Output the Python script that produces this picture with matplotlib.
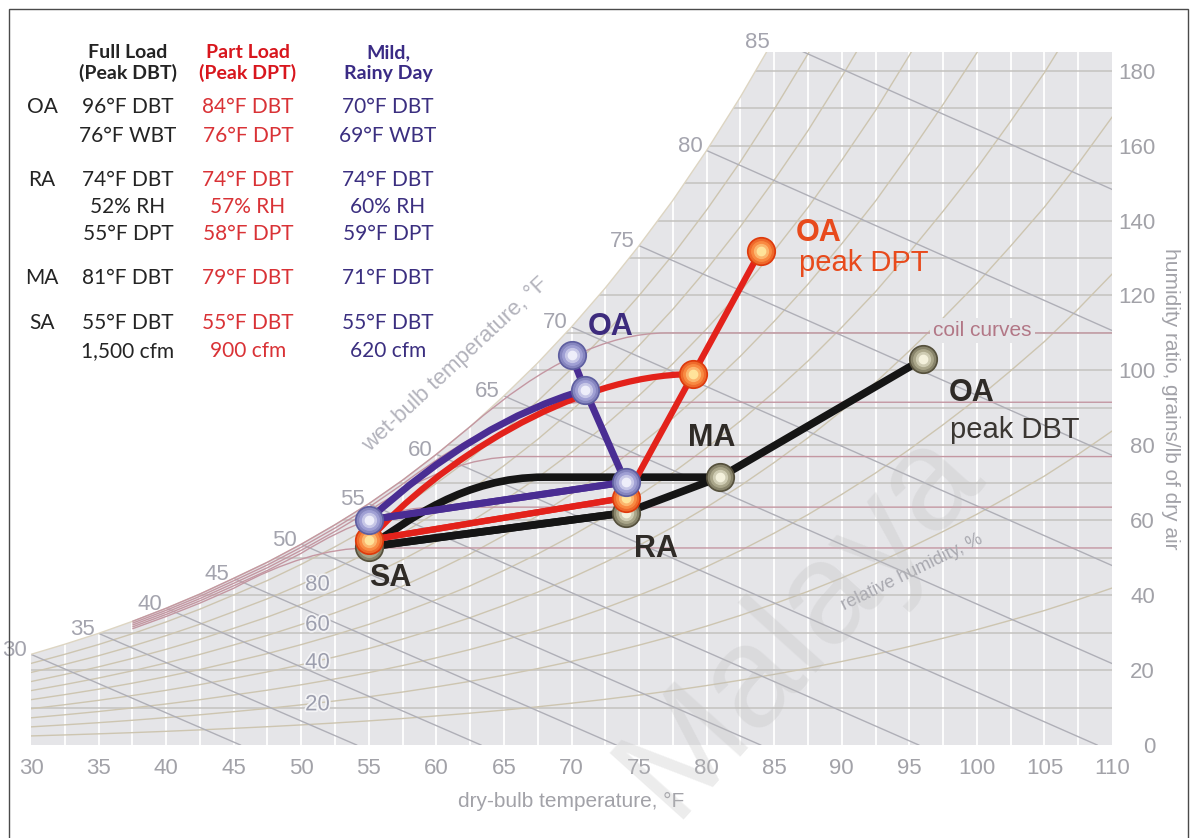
import numpy as np
import matplotlib.pyplot as plt
from matplotlib.path import Path
from matplotlib.patches import PathPatch, Polygon, Rectangle
from matplotlib.colors import to_rgb
import matplotlib.patheffects as pe

# saturation humidity ratio (grains/lb) by dry-bulb temperature
sat_t = np.arange(30, 110.1, 2.5)
sat_w = [24.2, 26.9, 29.8, 33.0, 36.5, 40.3, 44.5, 48.8, 53.6, 58.8, 64.4,
         70.7, 77.6, 85.0, 93.2, 102.0, 111.6, 122.0, 133.3, 145.4, 158.7,
         173.0, 188.5, 205.0, 223.0, 242.0, 263.0, 285.0, 308.0, 333.0,
         359.0, 388.0, 419.0]
sat = dict(zip(sat_t, sat_w))

# wet-bulb lines: start on saturation, end at dry air (W = 0)
wb_t = [30, 35, 40, 45, 50, 55, 60, 65, 70, 75, 80, 85]
wb_end = [45.5, 54.1, 63.3, 73.3, 84.0, 95.7, 108.9, 123.7, 140.1, 158.4, 179.1, 202.3]

rh_levels = [10, 20, 30, 40, 50, 60, 70, 80, 90]
rh_labels = ['80', '60', '40', '20']
rh_label_w = [42.7, 32.0, 21.9, 10.7]

# coil curves
coil_level = [52.6, 63.5, 77.0, 91.5, 110.0]
coil_knee = [45.0, 50.0, 55.0, 57.5, 62.5]
coil_ctrl = [50.5, 55.5, 61.0, 65.5, 70.5]
coil_flat = [55.0, 60.0, 66.0, 71.0, 77.0]
coil_fac = [0.94, 0.955, 0.97, 0.985, 1.0]

# air states: OA, MA, RA, SA
full_dbt = [96, 81, 74, 55]
full_w = [103.0, 71.5, 62.0, 52.9]
part_dbt = [84, 79, 74, 55]
part_w = [132.0, 99.0, 66.0, 54.7]
mild_dbt = [70, 71, 74, 55]
mild_w = [104.0, 94.8, 70.2, 60.1]

# coil process (MA -> SA) control points
full_coil_t = [81, 68, 62, 58, 55]
full_coil_w = [71.5, 71.5, 71.5, 60.0, 52.9]
part_coil_t = [79, 70, 60, 55]
part_coil_w = [99.0, 99.0, 75.0, 54.7]
mild_coil_t = [71, 63, 55]
mild_coil_w = [94.8, 86.5, 60.1]

W, H = 1194, 838
fig = plt.figure(figsize=(W / 100, H / 100), dpi=100)
ax = fig.add_axes([31 / W, 1 - 745 / H, (1112 - 31) / W, (745 - 52) / H])
ax.set_xlim(30, 110)
ax.set_ylim(0, 185)
for s in ax.spines.values():
    s.set_visible(False)

GRAY = '#e5e5e8'
chart = Polygon(np.column_stack([np.r_[30, sat_t, 110], np.r_[0, sat_w, 0]]),
                closed=True, facecolor=GRAY, edgecolor='none', zorder=0)
ax.add_patch(chart)


def clipped(artists):
    for a in artists:
        a.set_clip_path(chart)


# grid: dry-bulb, humidity ratio, relative humidity, wet-bulb
clipped([ax.vlines(np.arange(32.5, 110, 2.5), 0, 200, color='white', lw=1.3, zorder=1)])
clipped([ax.hlines(np.arange(10, 190, 10), 30, 110, color='#c4c2bf', lw=1.1, zorder=1)])
for rh in rh_levels:
    clipped(ax.plot(sat_t, np.array(sat_w) * rh / 100, color='#cdc5b0', lw=1.0, zorder=1))
for t, t0 in zip(wb_t, wb_end):
    clipped(ax.plot([t, t0], [sat[t], 0], color='#afafb7', lw=1.0, zorder=1))
ax.plot(sat_t, sat_w, color='#ddd5c2', lw=1.0, zorder=1)

for t in wb_t:
    ax.annotate(str(t), (t, min(sat[t], 186.5)), xytext=(-3, 3), textcoords='offset points',
                ha='right', va='center', fontsize=16, color='#a4a4ae',
                family='Liberation Sans', annotation_clip=False, zorder=3)

for lbl, w in zip(rh_labels, rh_label_w):
    ax.text(51.2, w, lbl, ha='center', va='center', fontsize=16, color='#9d9fae',
            family='Liberation Sans', zorder=3,
            path_effects=[pe.withStroke(linewidth=2.5, foreground='#f4f4f6')])

# coil curves
COIL = '#c497a2'
for L, tk, tc, tf, f in zip(coil_level, coil_knee, coil_ctrl, coil_flat, coil_fac):
    pts = [(t, f * sat[t]) for t in sat_t if 37.5 <= t <= tk]
    verts = pts + [(tc, L), (tf, L), (110, L)]
    codes = [Path.MOVETO] + [Path.LINETO] * (len(pts) - 1) + [Path.CURVE3, Path.CURVE3, Path.LINETO]
    ax.add_patch(PathPatch(Path(verts, codes), fill=False, edgecolor=COIL, lw=1.0, zorder=2))

ax.text(100.4, 110.6, 'coil curves', ha='center', va='center', fontsize=15,
        color='#b27786', family='Liberation Sans', zorder=3,
        bbox=dict(boxstyle='square,pad=0.15', facecolor=GRAY, edgecolor='none'))

ax.text(61.4, 101.5, 'wet-bulb temperature, °F', rotation=43, rotation_mode='anchor',
        ha='center', va='center', fontsize=16, color='#b3b3bc', family='Liberation Sans')
ax.text(95.2, 46.2, 'relative humidity, %', rotation=26, rotation_mode='anchor',
        ha='center', va='center', fontsize=13, color='#a9a9b0', family='Liberation Sans', zorder=3)

# process lines and state points
series = [
    (full_dbt, full_w, (full_coil_t, full_coil_w, [Path.MOVETO, Path.LINETO] + [Path.CURVE4] * 3),
     '#151515', 5.5, ('#55503c', '#aaa68a', '#f4f1dc')),
    (part_dbt, part_w, (part_coil_t, part_coil_w, [Path.MOVETO] + [Path.CURVE4] * 3),
     '#e3221b', 4.5, ('#de3a0c', '#f98a42', '#ffe39a')),
    (mild_dbt, mild_w, (mild_coil_t, mild_coil_w, [Path.MOVETO] + [Path.CURVE3] * 2),
     '#4a2d93', 5.0, ('#5e5ea0', '#a0a0d4', '#eeeefa')),
]


def shade(c1, c2, f):
    a, b = np.array(to_rgb(c1)), np.array(to_rgb(c2))
    return tuple(a + (b - a) * f)


z = 4
for dbt, w, (ct, cw, cc), col, lw, (dark, mid, light) in series:
    ax.plot(dbt, w, color=col, lw=lw, solid_capstyle='round', solid_joinstyle='round', zorder=z)
    ax.plot([dbt[2], dbt[3]], [w[2], w[3]], color=col, lw=lw, solid_capstyle='round', zorder=z)
    ax.add_patch(PathPatch(Path(list(zip(ct, cw)), cc), fill=False, edgecolor=col,
                           lw=lw, capstyle='round', zorder=z))
    # shaded ball: dark rim fading to a light centre
    ax.scatter(dbt, w, s=20 ** 2, color=dark, zorder=z + 1, clip_on=False)
    ax.scatter(dbt, w, s=17.5 ** 2, color=shade(dark, mid, 0.6), zorder=z + 1, clip_on=False)
    ax.scatter(dbt, w, s=14 ** 2, color=mid, zorder=z + 1, clip_on=False)
    ax.scatter(dbt, w, s=10 ** 2, color=shade(mid, light, 0.5), zorder=z + 1, clip_on=False)
    ax.scatter(dbt, w, s=6 ** 2, color=light, zorder=z + 1, clip_on=False)
    z += 2

BOLD = dict(family='Liberation Sans', fontweight='bold', fontsize=22, zorder=12)
REG = dict(family='Liberation Sans', fontsize=21, zorder=12)
ax.text(71.2, 111.6, 'OA', color='#3d2b7d', va='center', **BOLD)
ax.text(86.6, 136.7, 'OA', color='#e84a1c', va='center', **BOLD)
ax.text(86.8, 128.8, 'peak DPT', color='#e84a1c', va='center', **REG)
ax.text(97.9, 94.0, 'OA', color='#2f2b27', va='center', **BOLD)
ax.text(98.0, 84.1, 'peak DBT', color='#3a3632', va='center', **REG)
ax.text(78.6, 82.0, 'MA', color='#2f2b27', va='center', **BOLD)
ax.text(74.6, 52.3, 'RA', color='#2f2b27', va='center', **BOLD)
ax.text(55.0, 44.6, 'SA', color='#2f2b27', va='center', **BOLD)

# axes ticks and labels
ax.set_xticks(np.arange(30, 111, 5))
ax.yaxis.tick_right()
ax.set_yticks(np.arange(0, 181, 20))
ax.tick_params(length=0, labelsize=16, labelcolor='#a2a2a8')
ax.tick_params(axis='x', pad=9)
ax.tick_params(axis='y', pad=31)
for lbl in ax.get_xticklabels() + ax.get_yticklabels():
    lbl.set_family('Liberation Sans')
for lbl in ax.get_yticklabels():
    lbl.set_ha('right')
ax.set_xlabel('dry-bulb temperature, °F', fontsize=15, color='#a2a2a8',
              family='Liberation Sans', labelpad=10)
ax.yaxis.set_label_position('right')
ax.set_ylabel('humidity ratio, grains/lb of dry air', fontsize=15, color='#a2a2a8',
              family='Liberation Sans', rotation=270, labelpad=18)

# design conditions table
headers = [('Full Load', '(Peak DBT)'), ('Part Load', '(Peak DPT)'), ('Mild,', 'Rainy Day')]
row_names = ['OA', 'RA', 'MA', 'SA']
full_col = [['96°F DBT', '76°F WBT'], ['74°F DBT', '52% RH', '55°F DPT'],
            ['81°F DBT'], ['55°F DBT', '1,500 cfm']]
part_col = [['84°F DBT', '76°F DPT'], ['74°F DBT', '57% RH', '58°F DPT'],
            ['79°F DBT'], ['55°F DBT', '900 cfm']]
mild_col = [['70°F DBT', '69°F WBT'], ['74°F DBT', '60% RH', '59°F DPT'],
            ['71°F DBT'], ['55°F DBT', '620 cfm']]

col_x = [128, 248, 388]
head_col = ['#242424', '#d8161d', '#3a2b85']
val_col = ['#242424', '#d93236', '#3b2f80']
row_y = [[107, 136], [180, 207, 234], [278], [323, 351]]


def ftext(x, y, s, **kw):
    fig.text(x / W, 1 - y / H, s, ha='center', va='center', family='Lato', **kw)


for cx, (h1, h2), c in zip(col_x, headers, head_col):
    ftext(cx, 53, h1, fontsize=14, fontweight='bold', color=c)
    ftext(cx, 73, h2, fontsize=14, fontweight='bold', color=c)
for name, ys, *cols in zip(row_names, row_y, full_col, part_col, mild_col):
    ftext(42, ys[0], name, fontsize=15, color='#242424')
    for cx, vals, c in zip(col_x, cols, val_col):
        for y, v in zip(ys, vals):
            ftext(cx, y, v, fontsize=15, color=c)

fig.text(800 / W, 1 - 622 / H, 'Malaya', rotation=48, ha='center', va='center',
         fontsize=104, color='#bdbdbd', alpha=0.28, family='Liberation Sans', zorder=20)

fig.add_artist(Rectangle((9 / W, -0.05), (1188 - 9) / W, 1.05 - 9 / H, fill=False,
                         edgecolor='#4a4a4a', lw=1.0, transform=fig.transFigure))

fig.savefig('out.png', dpi=100)
